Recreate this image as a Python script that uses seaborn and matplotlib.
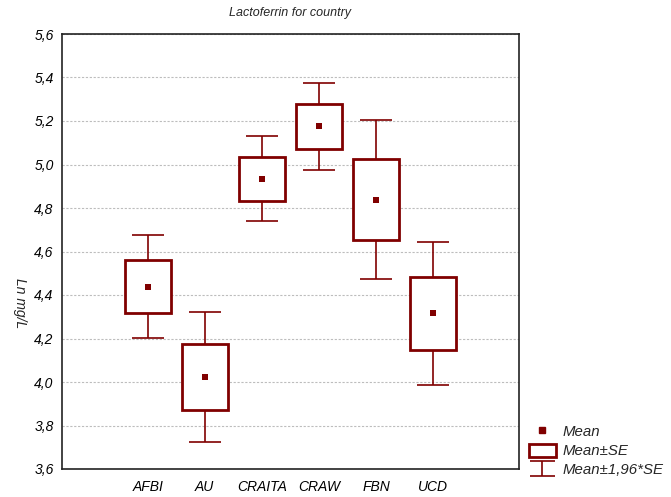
import numpy as np
import pandas as pd
import matplotlib
matplotlib.use("Agg")
import matplotlib.pyplot as plt
from matplotlib.patches import Rectangle
from matplotlib.lines import Line2D
import seaborn as sns

# Lactoferrin (ln mg/L) by country: group means and standard errors
countries = ["AFBI", "AU", "CRAITA", "CRAW", "FBN", "UCD"]
means = [4.439, 4.023, 4.934, 5.175, 4.839, 4.315]
ses = [0.120, 0.152, 0.100, 0.1025, 0.186, 0.168]
y_ticks = [3.6, 3.8, 4.0, 4.2, 4.4, 4.6, 4.8, 5.0, 5.2, 5.4, 5.6]

df = pd.DataFrame({"country": countries, "mean": means, "se": ses})
df["lo_se"] = df["mean"] - df["se"]
df["ci"] = 1.96 * df["se"]

sns.set_style("white")
plt.rcParams["font.family"] = ["Liberation Sans", "DejaVu Sans"]
plt.rcParams["font.style"] = "italic"

RED = "#800000"

fig = plt.figure(figsize=(6.71, 4.97), dpi=100)
ax = fig.add_axes([62 / 671, 1 - 469 / 497, (519 - 62) / 671, (469 - 34) / 497])

# whiskers: mean +/- 1.96*SE
ax.errorbar(df["country"], df["mean"], yerr=df["ci"], fmt="none",
            ecolor=RED, elinewidth=1.2, capsize=11.5, capthick=1.2, zorder=2)
# boxes: mean +/- SE
ax.bar(df["country"], 2 * df["se"], bottom=df["lo_se"], width=0.8,
       facecolor="white", edgecolor=RED, linewidth=2.0, zorder=3)
# means
sns.scatterplot(data=df, x="country", y="mean", marker="s", color=RED,
                s=24, linewidth=0, ax=ax, zorder=4)

ax.set_xlim(-1.5, 6.5)
ax.set_ylim(3.6, 5.6)
ax.set_xticks(range(-1, 7))
ax.set_xticklabels([""] + countries + [""])
ax.set_yticks(y_ticks)
ax.set_yticklabels([f"{v:.1f}".replace(".", ",") for v in y_ticks])
ax.set_xlabel("")
ax.set_ylabel("")
ax.tick_params(axis="both", direction="in", length=3, width=1, colors="#222222",
               labelsize=10, labelcolor="black")
ax.tick_params(axis="x", pad=8)
ax.tick_params(axis="y", pad=6)
for lab in ax.get_xticklabels() + ax.get_yticklabels():
    lab.set_fontstyle("italic")

ax.yaxis.grid(True, color="#bdbdbd", linestyle=(0, (2, 1.5)), linewidth=0.8)
ax.xaxis.grid(False)
ax.set_axisbelow(True)
for sp in ax.spines.values():
    sp.set_visible(True)
    sp.set_color("#222222")
    sp.set_linewidth(1.2)

fig.text(290 / 671, 1 - 13 / 497, "Lactoferrin for country", ha="center",
         va="center", fontsize=9, fontstyle="italic")
fig.text(20 / 671, 1 - 303 / 497, "Ln mg/L", rotation=-90, ha="center",
         va="center", fontsize=10, fontstyle="italic")

# legend
h_mean = Line2D([], [], linestyle="none", marker="s", markersize=5,
                markerfacecolor=RED, markeredgecolor=RED)
h_box = Rectangle((0, 0), 1, 1, facecolor="white", edgecolor=RED, linewidth=2.0)
h_ci = ax.errorbar([np.nan], [np.nan], yerr=[1], fmt="none", ecolor=RED,
                   elinewidth=1.2, capsize=9, capthick=1.2)
leg = fig.legend([h_mean, h_box, h_ci], ["Mean", "Mean\u00b1SE", "Mean\u00b11,96*SE"],
                 loc="lower left", bbox_to_anchor=(518 / 671, 1 - 488 / 497),
                 frameon=False, fontsize=10.8, handlelength=1.8, handleheight=1.0,
                 labelspacing=0.28, handletextpad=0.45, borderpad=0.2)
for t in leg.get_texts():
    t.set_fontstyle("italic")

fig.savefig("out.png", dpi=100)
